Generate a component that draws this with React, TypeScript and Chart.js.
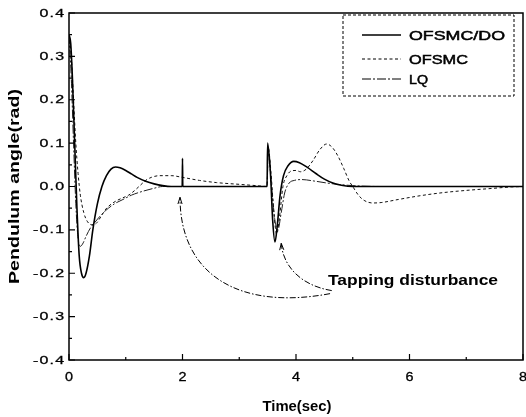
import React, { useEffect, useRef } from "react";
import { Chart, registerables } from "chart.js";
Chart.register(...registerables);

const seriesNames = ["OFSMC/DO", "OFSMC", "LQ"];

const solidT = [0, 0.03, 0.06, 0.1, 0.14, 0.18, 0.22, 0.26, 0.3, 0.36, 0.42, 0.5, 0.58, 0.66, 0.74, 0.82, 0.9, 1.0, 1.1, 1.2, 1.35, 1.5, 1.65, 1.8, 1.995, 2.0, 2.005, 3.49, 3.5, 3.55, 3.59, 3.63, 3.67, 3.72, 3.78, 3.86, 3.96, 4.06, 4.2, 4.35, 4.5, 4.65, 4.8, 5.0, 8.0];
const solidV = [0.35, 0.33, 0.25, 0.1, -0.05, -0.16, -0.2, -0.21, -0.2, -0.16, -0.1, -0.04, 0.0, 0.025, 0.04, 0.045, 0.043, 0.037, 0.029, 0.021, 0.012, 0.006, 0.002, 0.0, 0.0, 0.065, 0.0, 0.0, 0.1, 0.03, -0.08, -0.128, -0.09, -0.02, 0.025, 0.048, 0.058, 0.055, 0.044, 0.03, 0.017, 0.008, 0.003, 0.0, 0.0];

const dashT = [0, 0.04, 0.08, 0.12, 0.16, 0.2, 0.26, 0.32, 0.4, 0.48, 0.56, 0.65, 0.75, 0.85, 0.95, 1.05, 1.15, 1.25, 1.35, 1.45, 1.6, 1.8, 2.0, 2.3, 2.6, 3.0, 3.3, 3.49, 3.51, 3.56, 3.61, 3.66, 3.71, 3.77, 3.84, 3.92, 4.0, 4.08, 4.18, 4.3, 4.42, 4.54, 4.64, 4.74, 4.84, 4.94, 5.0, 5.1, 5.2, 5.35, 5.5, 5.8, 6.2, 6.6, 7.0, 7.4, 7.8, 8.0];
const dashV = [0.35, 0.3, 0.2, 0.1, 0.03, -0.02, -0.06, -0.08, -0.088, -0.085, -0.07, -0.052, -0.04, -0.032, -0.026, -0.02, -0.01, 0.002, 0.014, 0.021, 0.025, 0.025, 0.021, 0.014, 0.009, 0.005, 0.002, 0.0, 0.09, 0.03, -0.06, -0.11, -0.07, 0.0, 0.025, 0.036, 0.037, 0.034, 0.04, 0.06, 0.085, 0.098, 0.09, 0.07, 0.042, 0.012, 0.0, -0.02, -0.032, -0.038, -0.037, -0.03, -0.021, -0.014, -0.009, -0.005, -0.001, 0.0];

const lqT = [0, 0.04, 0.08, 0.12, 0.16, 0.2, 0.25, 0.3, 0.38, 0.46, 0.55, 0.65, 0.8, 0.95, 1.1, 1.3, 1.5, 1.65, 2.0, 3.49, 3.51, 3.57, 3.63, 3.68, 3.74, 3.8, 3.88, 3.97, 4.1, 4.3, 4.6, 5.0, 5.5, 8.0];
const lqV = [0.35, 0.25, 0.1, -0.04, -0.12, -0.138, -0.13, -0.115, -0.095, -0.082, -0.068, -0.055, -0.04, -0.03, -0.02, -0.011, -0.004, 0.0, 0.0, 0.0, 0.08, 0.0, -0.08, -0.1, -0.06, -0.015, 0.008, 0.014, 0.016, 0.013, 0.007, 0.002, 0.0, 0.0];

const xTicks = [0, 2, 4, 6, 8];
const xMinorTicks = [1, 3, 5, 7];
const xTickLabels = ["0", "2", "4", "6", "8"];
const yTicks = [0.4, 0.3, 0.2, 0.1, 0.0, -0.1, -0.2, -0.3, -0.4];
const yMinorTicks = [0.35, 0.25, 0.15, 0.05, -0.05, -0.15, -0.25, -0.35];
const yTickLabels = ["0.4", "0.3", "0.2", "0.1", "0.0", "-0.1", "-0.2", "-0.3", "-0.4"];

const xTitle = "Time(sec)";
const yTitle = "Pendulum angle(rad)";
const annotationText = "Tapping disturbance";
// arrow curves in data units: [t, value] for P0, P1, P2, P3 (head at P3)
const arrow1 = [[4.6, -0.247], [3.01, -0.286], [1.956, -0.205], [1.956, -0.025]];
const arrow2 = [[4.63, -0.24], [4.07, -0.228], [3.77, -0.182], [3.74, -0.131]];

const FONT = '"Liberation Sans", Arial, sans-serif';

function spacedText(ctx: CanvasRenderingContext2D, text: string, x: number, y: number, sx: number, spacing: number, align: string, heavy: number) {
  const chars = text.split("");
  const widths = chars.map((c) => ctx.measureText(c).width);
  const total = (widths.reduce((a, b) => a + b, 0) + spacing * (chars.length - 1)) * sx;
  let start = x;
  if (align === "center") start = x - total / 2;
  else if (align === "right") start = x - total;
  ctx.save();
  ctx.translate(start, y);
  ctx.scale(sx, 1);
  ctx.textAlign = "left";
  ctx.lineWidth = heavy;
  let cx = 0;
  chars.forEach((c, i) => {
    ctx.fillText(c, cx, 0);
    if (heavy > 0) ctx.strokeText(c, cx, 0);
    cx += widths[i] + spacing;
  });
  ctx.restore();
}

function fitText(ctx: CanvasRenderingContext2D, text: string, x: number, y: number, width: number, align: string, heavy: number) {
  const m = ctx.measureText(text).width;
  const sx = width / m;
  let start = x;
  if (align === "center") start = x - width / 2;
  else if (align === "right") start = x - width;
  ctx.save();
  ctx.translate(start, y);
  ctx.scale(sx, 1);
  ctx.textAlign = "left";
  ctx.fillText(text, 0, 0);
  if (heavy > 0) {
    ctx.setLineDash([]);
    ctx.lineWidth = heavy;
    ctx.strokeText(text, 0, 0);
  }
  ctx.restore();
}

const decorPlugin = {
  id: "decor",
  afterDraw(chart: any) {
    const ctx: CanvasRenderingContext2D = chart.ctx;
    const { left, right, top, bottom } = chart.chartArea;
    const xs = chart.scales.x;
    const ys = chart.scales.y;
    ctx.save();
    ctx.strokeStyle = "#000";
    ctx.fillStyle = "#000";
    ctx.setLineDash([]);
    // frame
    ctx.lineWidth = 1.5;
    ctx.strokeRect(left, top, right - left, bottom - top);
    // ticks
    ctx.lineWidth = 1.2;
    ctx.beginPath();
    xTicks.forEach((t) => {
      const px = xs.getPixelForValue(t);
      ctx.moveTo(px, bottom);
      ctx.lineTo(px, bottom - 6);
    });
    xMinorTicks.forEach((t) => {
      const px = xs.getPixelForValue(t);
      ctx.moveTo(px, bottom);
      ctx.lineTo(px, bottom - 3);
    });
    yTicks.forEach((v) => {
      const py = ys.getPixelForValue(v);
      ctx.moveTo(left, py);
      ctx.lineTo(left + 6, py);
    });
    yMinorTicks.forEach((v) => {
      const py = ys.getPixelForValue(v);
      ctx.moveTo(left, py);
      ctx.lineTo(left + 3, py);
    });
    ctx.stroke();
    // tick labels
    ctx.font = "11px " + FONT;
    ctx.textBaseline = "middle";
    yTicks.forEach((v, i) => {
      spacedText(ctx, yTickLabels[i], left - 5, ys.getPixelForValue(v) + 0.5, 1.45, 0.8, "right", 0.3);
    });
    ctx.font = "12px " + FONT;
    xTicks.forEach((t, i) => {
      spacedText(ctx, xTickLabels[i], xs.getPixelForValue(t), bottom + 18, 1.2, 0, "center", 0.3);
    });
    // axis titles
    ctx.textBaseline = "alphabetic";
    ctx.font = "bold 14px " + FONT;
    fitText(ctx, xTitle, (left + right) / 2 + 1, 411, 69, "center", 0);
    ctx.save();
    ctx.translate(19, (top + bottom) / 2);
    ctx.rotate(-Math.PI / 2);
    ctx.font = "bold 14px " + FONT;
    fitText(ctx, yTitle, 0, 0, 195, "center", 0);
    ctx.restore();

    // legend
    const lx = right - 180;
    ctx.lineWidth = 1;
    ctx.setLineDash([3, 2]);
    ctx.strokeRect(lx, top + 2, 171, 81);
    const rowsY = [top + 22, top + 46, top + 66];
    const baseY = [top + 27, top + 51, top + 71];
    const dashes = [[], [3, 2.5], [9, 2, 2, 2]];
    const widths = [1.6, 1, 1];
    const texts = [96, 59, 19];
    seriesNames.forEach((n, i) => {
      ctx.setLineDash(dashes[i]);
      ctx.lineWidth = widths[i];
      ctx.beginPath();
      ctx.moveTo(lx + 19, rowsY[i]);
      ctx.lineTo(lx + 58, rowsY[i]);
      ctx.stroke();
      ctx.font = "13px " + FONT;
      fitText(ctx, n, lx + 66, baseY[i], texts[i], "left", 0.5);
    });

    // annotation
    ctx.font = "bold 14px " + FONT;
    fitText(ctx, annotationText, 328, 285, 170, "left", 0);
    const drawArrow = (pts: number[][]) => {
      const p = pts.map(([t, v]) => [xs.getPixelForValue(t), ys.getPixelForValue(v)]);
      ctx.setLineDash([6, 2, 1.5, 2]);
      ctx.lineWidth = 1;
      ctx.beginPath();
      ctx.moveTo(p[0][0], p[0][1]);
      ctx.bezierCurveTo(p[1][0], p[1][1], p[2][0], p[2][1], p[3][0], p[3][1]);
      ctx.stroke();
      ctx.setLineDash([]);
      const ang = Math.atan2(p[3][1] - p[2][1], p[3][0] - p[2][0]);
      const L = 7;
      ctx.beginPath();
      ctx.moveTo(p[3][0] + L * Math.cos(ang + Math.PI - 0.3), p[3][1] + L * Math.sin(ang + Math.PI - 0.3));
      ctx.lineTo(p[3][0], p[3][1]);
      ctx.lineTo(p[3][0] + L * Math.cos(ang + Math.PI + 0.3), p[3][1] + L * Math.sin(ang + Math.PI + 0.3));
      ctx.stroke();
    };
    drawArrow(arrow1);
    drawArrow(arrow2);
    ctx.restore();
  },
};

function toPts(t: number[], v: number[]) {
  return t.map((x, i) => ({ x, y: v[i] }));
}

export default function App() {
  const ref = useRef<HTMLCanvasElement | null>(null);
  useEffect(() => {
    if (!ref.current) return;
    const chart = new Chart(ref.current, {
      type: "line",
      data: {
        datasets: [
          { label: seriesNames[0], data: toPts(solidT, solidV), borderColor: "#000", borderWidth: 1.6, pointRadius: 0, cubicInterpolationMode: "monotone" },
          { label: seriesNames[1], data: toPts(dashT, dashV), borderColor: "#111", borderWidth: 1, borderDash: [3, 2.5], pointRadius: 0, cubicInterpolationMode: "monotone" },
          { label: seriesNames[2], data: toPts(lqT, lqV), borderColor: "#222", borderWidth: 1, borderDash: [9, 2, 2, 2], pointRadius: 0, cubicInterpolationMode: "monotone" },
        ],
      },
      options: {
        responsive: false,
        animation: false,
        layout: { padding: { left: 69, right: 3, top: 13, bottom: 57 } },
        scales: {
          x: { type: "linear", min: 0, max: 8, display: false },
          y: { type: "linear", min: -0.4, max: 0.4, display: false },
        },
        plugins: { legend: { display: false }, tooltip: { enabled: false } },
      },
      plugins: [decorPlugin],
    } as any);
    return () => chart.destroy();
  }, []);
  return (
    <div style={{ position: "fixed", left: 0, top: 0, width: 526, height: 417, background: "#fff" }}>
      <canvas ref={ref} width={526} height={417} />
    </div>
  );
}
